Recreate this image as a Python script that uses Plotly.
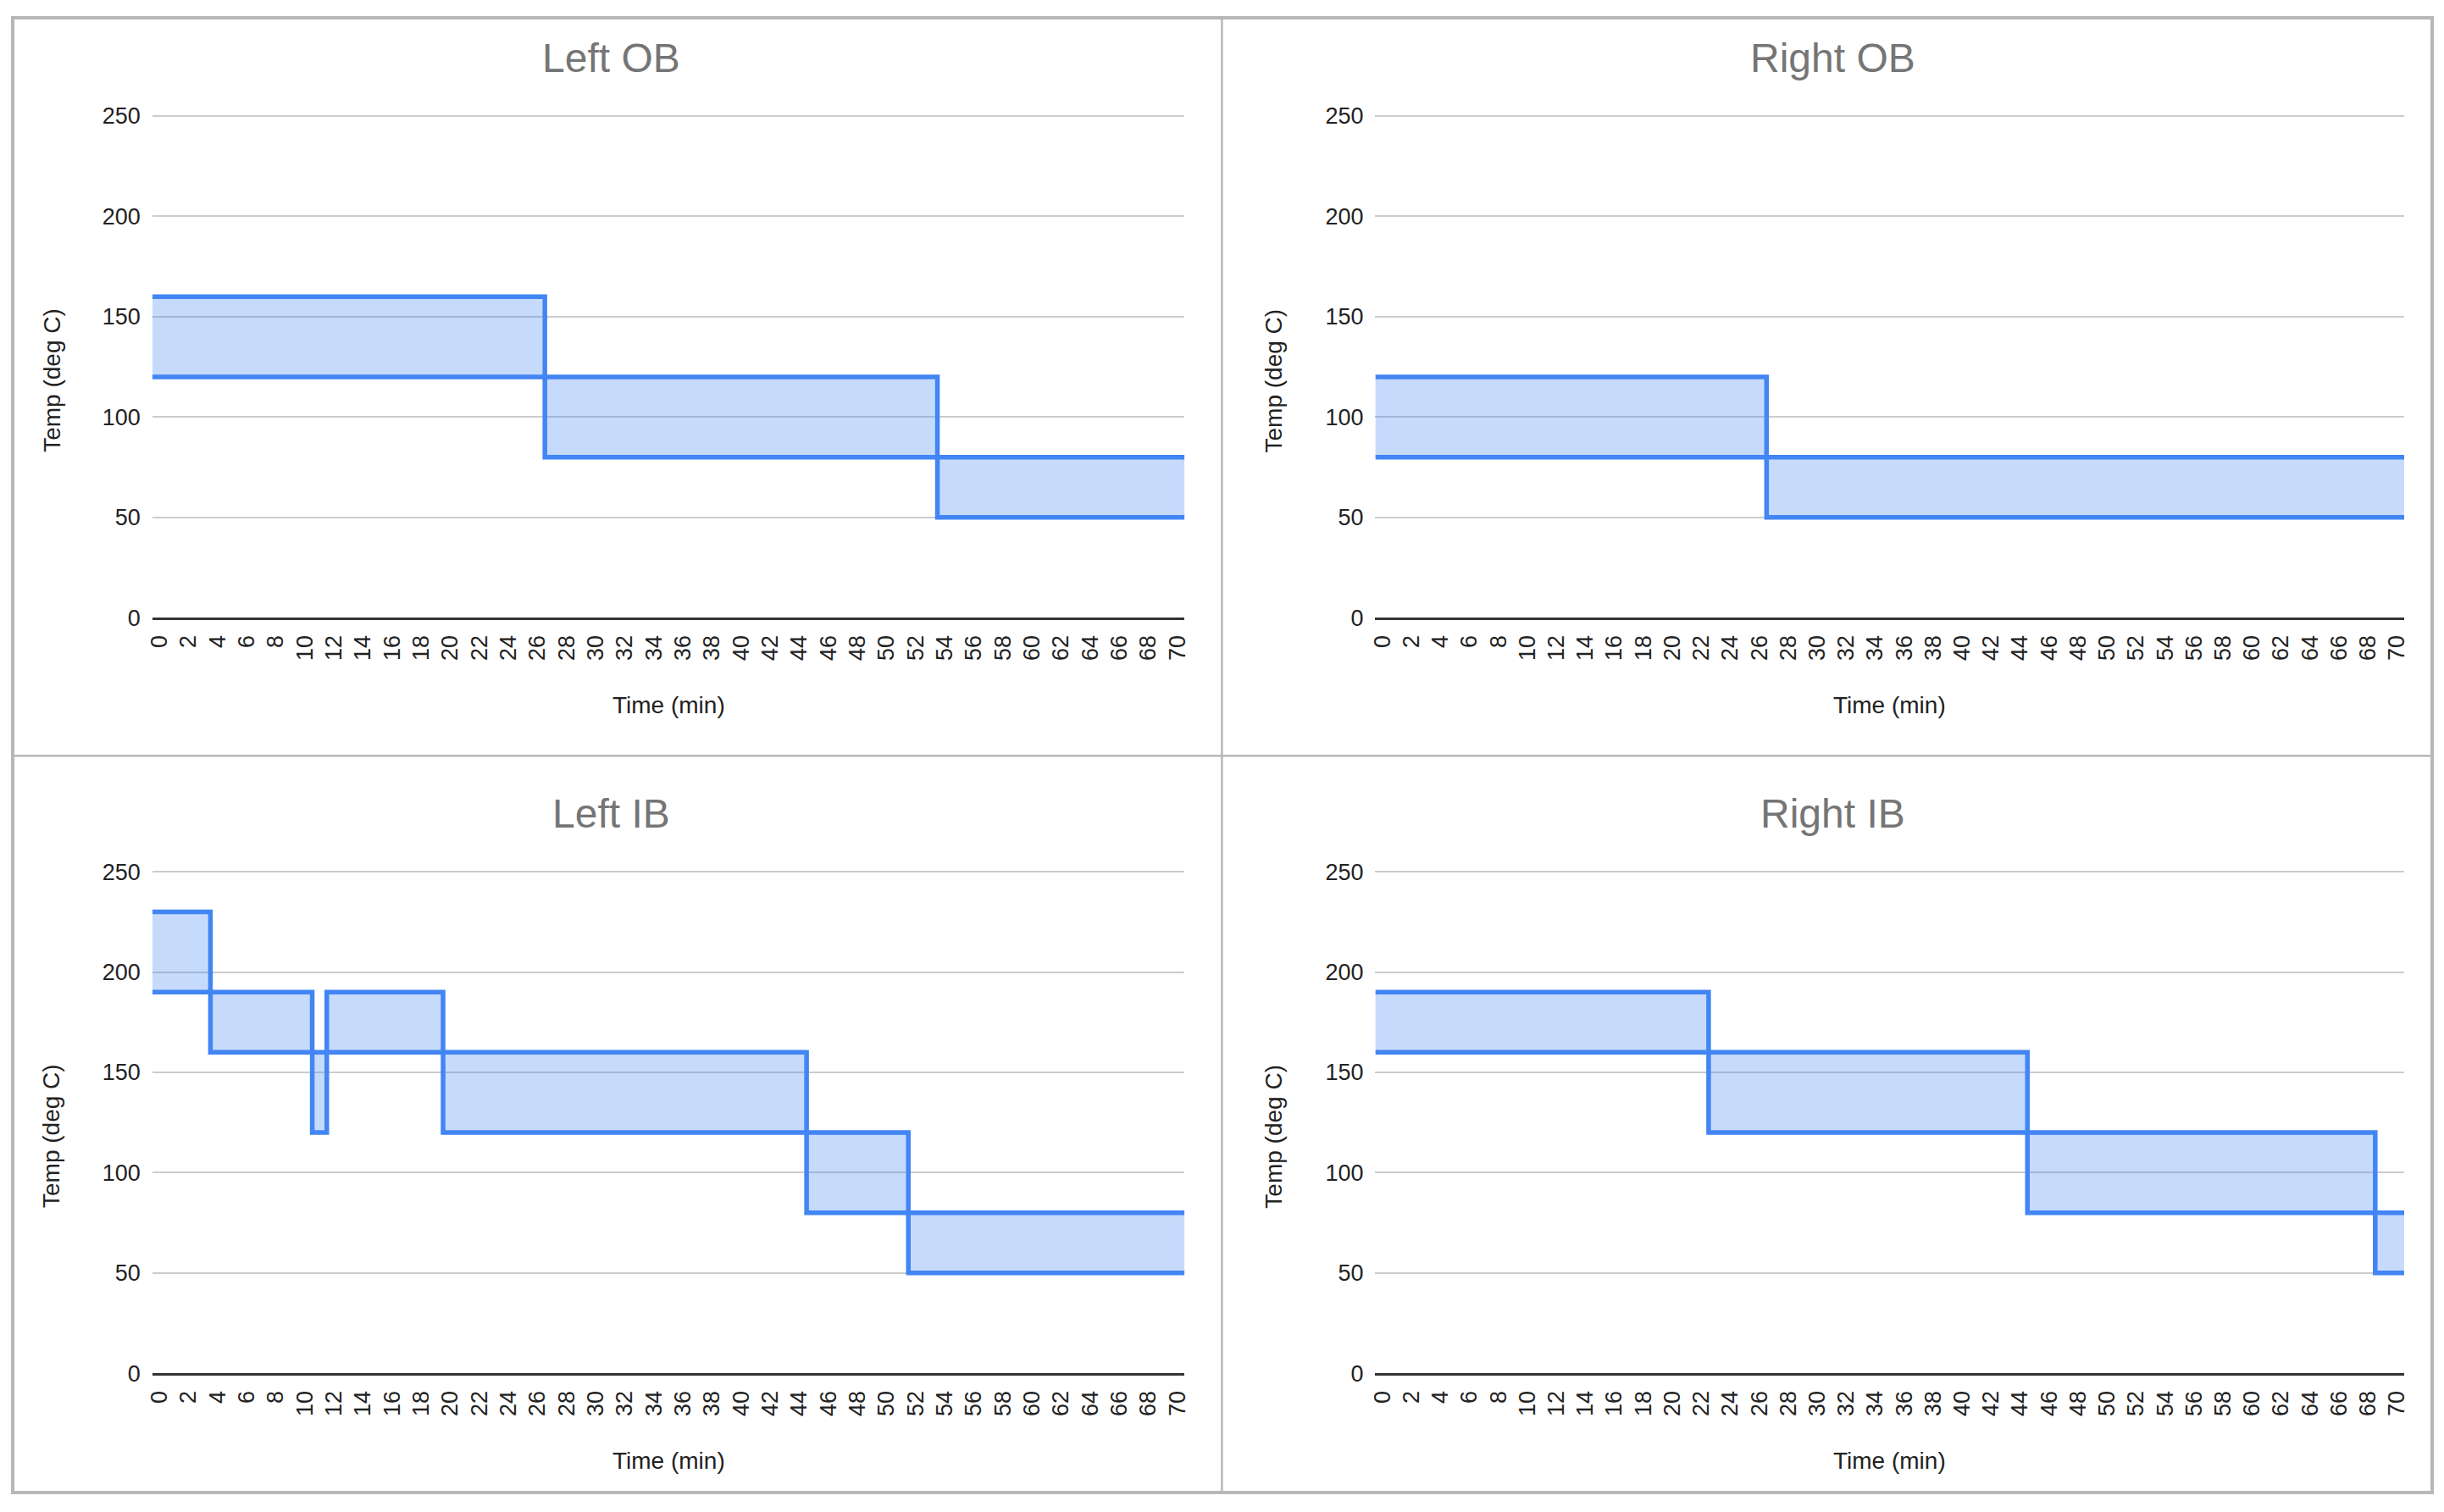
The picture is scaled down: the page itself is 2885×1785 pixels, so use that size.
import plotly.graph_objects as go

# ---- data ----
panel_titles = ["Left OB", "Right OB", "Left IB", "Right IB"]
x_ticks = list(range(0, 71, 2))
y_ticks = [0, 50, 100, 150, 200, 250]

left_ob_starts = [0, 27, 54]
left_ob_upper = [160, 120, 80]
left_ob_lower = [120, 80, 50]

right_ob_starts = [0, 27]
right_ob_upper = [120, 80]
right_ob_lower = [80, 50]

left_ib_starts = [0, 4, 11, 12, 20, 45, 52]
left_ib_upper = [230, 190, 160, 190, 160, 120, 80]
left_ib_lower = [190, 160, 120, 160, 120, 80, 50]

right_ib_starts = [0, 23, 45, 69]
right_ib_upper = [190, 160, 120, 80]
right_ib_lower = [160, 120, 80, 50]

last_minute = 70

series = [
    (left_ob_starts, left_ob_upper, left_ob_lower),
    (right_ob_starts, right_ob_upper, right_ob_lower),
    (left_ib_starts, left_ib_upper, left_ib_lower),
    (right_ib_starts, right_ib_upper, right_ib_lower),
]

# ---- layout geometry (target pixels on the 2885x1785 picture) ----
PAGE_W, PAGE_H = 2885, 1785
OFF = 8                      # default body margin of the page
W, H = PAGE_W - 2 * OFF, PAGE_H - 2 * OFF
# measured relation between figure pixels and the photographed picture
SX, AX = 0.995, 15.3
SY, AY = 0.984, 21.0

col_x = [(180, 1398), (1623, 2837)]
row_y = [(137, 729), (1029, 1621)]
panel_w, panel_h = 1442, 892
Y_TOP = 250.5

def fx(px):
    return ((px - AX) / SX) / W

def fy(py):
    return 1 - ((py - AY) / SY) / H

FONT = "Liberation Sans, Arial, sans-serif"
LINE = "#4285F4"
FILL = "rgba(66,133,244,0.30)"
GRID = "#cccccc"

fig = go.Figure()
layout = dict(
    width=W, height=H, margin=dict(l=0, r=0, t=0, b=0),
    paper_bgcolor="white", plot_bgcolor="white", showlegend=False,
    font=dict(family=FONT, size=27, color="#222222"),
)
annotations = []
shapes = []

def step_xy(starts, vals):
    xs = [s - 0.5 for s in starts] + [last_minute + 0.5]
    ys = list(vals) + [vals[-1]]
    return xs, ys

for i, (starts, upper, lower) in enumerate(series):
    r, c = divmod(i, 2)
    n = i + 1
    xa = "x" if n == 1 else f"x{n}"
    ya = "y" if n == 1 else f"y{n}"
    xl, xr = col_x[c]
    yt, yb = row_y[r]
    yt_ext = yt - (yb - yt) * (Y_TOP - 250) / 250
    lx, ly = step_xy(starts, lower)
    ux, uy = step_xy(starts, upper)
    fig.add_trace(go.Scatter(x=lx, y=ly, mode="lines", line=dict(color=LINE, width=5.5, shape="hv"),
                             xaxis=xa, yaxis=ya, hoverinfo="skip"))
    fig.add_trace(go.Scatter(x=ux, y=uy, mode="lines", line=dict(color=LINE, width=5.5, shape="hv"),
                             fill="tonexty", fillcolor=FILL, xaxis=xa, yaxis=ya, hoverinfo="skip"))
    xkey = "xaxis" if n == 1 else f"xaxis{n}"
    ykey = "yaxis" if n == 1 else f"yaxis{n}"
    layout[xkey] = dict(
        domain=[fx(xl), fx(xr)], anchor=ya, range=[-0.5, last_minute + 0.5],
        tickmode="array", tickvals=x_ticks, ticktext=[str(v) for v in x_ticks],
        tickangle=-90, showgrid=False, zeroline=False, ticks="",
        showline=True, linecolor="#333333", linewidth=3,
        tickfont=dict(family=FONT, size=27, color="#222222"), ticklabelstandoff=7,
    )
    layout[ykey] = dict(
        domain=[fy(yb), fy(yt_ext)], anchor=xa, range=[0, Y_TOP],
        tickmode="array", tickvals=y_ticks, showgrid=True, gridcolor=GRID, gridwidth=2,
        zeroline=False, ticks="", showline=False,
        tickfont=dict(family=FONT, size=27, color="#222222"), ticklabelstandoff=13,
    )
    px0 = c * panel_w
    py0 = r * panel_h
    annotations.append(dict(text=panel_titles[i], xref="paper", yref="paper",
                            x=fx(px0 + panel_w / 2), y=fy(py0 + 68),
                            showarrow=False, xanchor="center", yanchor="middle",
                            font=dict(family=FONT, size=48, color="#757575")))
    annotations.append(dict(text="Temp (deg C)", xref="paper", yref="paper",
                            x=fx(px0 + 61), y=fy(py0 + 449), textangle=-90,
                            showarrow=False, xanchor="center", yanchor="middle",
                            font=dict(family=FONT, size=28, color="#222222")))
    annotations.append(dict(text="Time (min)", xref="paper", yref="paper",
                            x=fx((xl + xr) / 2), y=fy(py0 + 832),
                            showarrow=False, xanchor="center", yanchor="middle",
                            font=dict(family=FONT, size=28, color="#222222")))

BORDER = "#b7b7b7"
shapes.append(dict(type="rect", xref="paper", yref="paper", x0=0, y0=0, x1=1, y1=1,
                   line=dict(color=BORDER, width=4)))
shapes.append(dict(type="line", xref="paper", yref="paper", x0=fx(panel_w), x1=fx(panel_w), y0=0, y1=1,
                   line=dict(color=BORDER, width=2.5)))
shapes.append(dict(type="line", xref="paper", yref="paper", x0=0, x1=1, y0=fy(panel_h), y1=fy(panel_h),
                   line=dict(color=BORDER, width=2.5)))

layout["annotations"] = annotations
layout["shapes"] = shapes
fig.update_layout(**layout)

fig.write_html("out.html", config={"displayModeBar": False})
